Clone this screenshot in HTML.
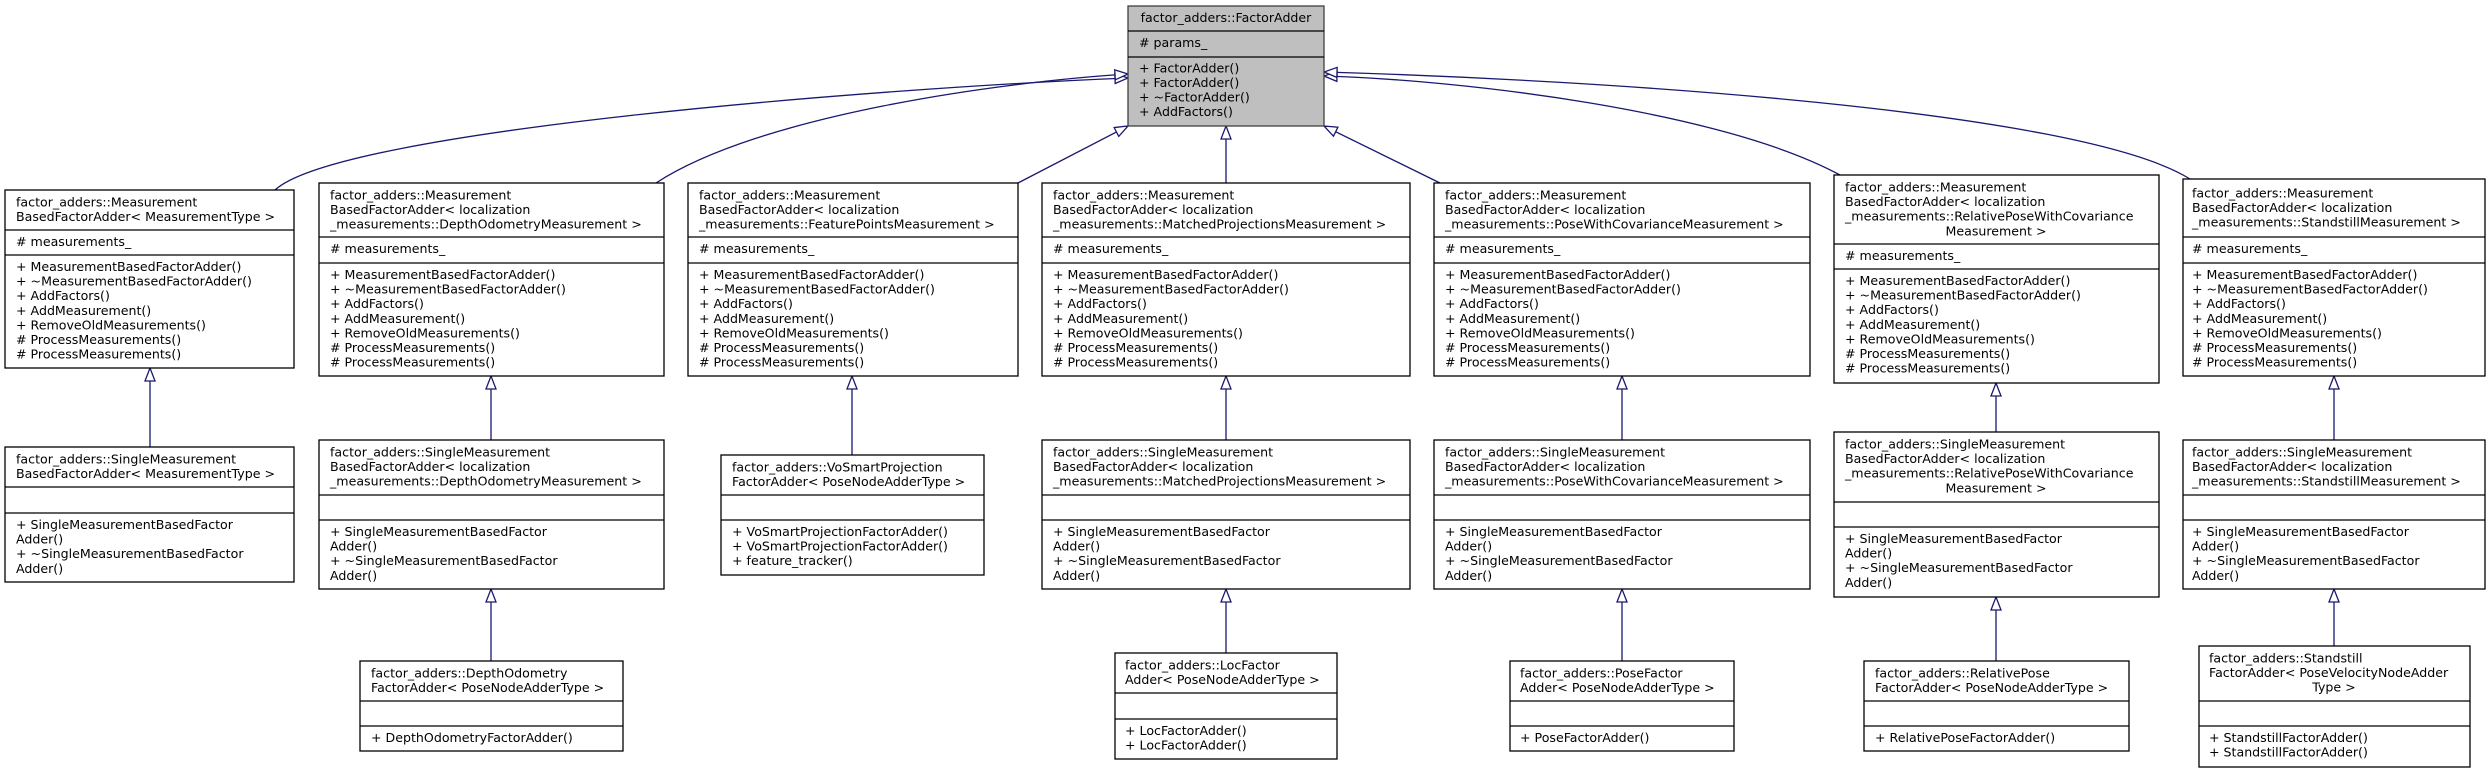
<!DOCTYPE html>
<html><head><meta charset="utf-8"><style>
html,body{margin:0;padding:0;background:#fff;}
svg{display:block}
text{font-family:"DejaVu Sans","Liberation Sans",sans-serif;font-size:12.6px;fill:#000;}
.b{fill:#fff;stroke:#000;stroke-width:1.3}
.g{fill:#bfbfbf;stroke:#404040;stroke-width:1.3}
.s{stroke:#000;stroke-width:1.3}
.e{fill:none;stroke:#191970;stroke-width:1.3}
.c{text-anchor:middle}
</style></head><body>
<svg width="2487" height="772" viewBox="0 0 2487 772" xmlns="http://www.w3.org/2000/svg">
<defs>
<marker id="a" markerUnits="userSpaceOnUse" markerWidth="16" markerHeight="14" refX="14" refY="6" orient="auto">
<path d="M1,1 L14,6 L1,11 Z" fill="#fff" stroke="#191970" stroke-width="1.3"/>
</marker>
</defs>

<!-- edges -->
<path class="e" marker-end="url(#a)" d="M275,190 C340,130 880,88 1128,78"/>
<path class="e" marker-end="url(#a)" d="M656,183 C760,115 1000,82 1128,74"/>
<path class="e" marker-end="url(#a)" d="M1018,183 L1128,126"/>
<path class="e" marker-end="url(#a)" d="M1226,183 L1226,126"/>
<path class="e" marker-end="url(#a)" d="M1440,183 L1324,126"/>
<path class="e" marker-end="url(#a)" d="M1840,175 C1720,110 1460,80 1324,76"/>
<path class="e" marker-end="url(#a)" d="M2190,179 C2080,110 1600,80 1324,72"/>
<path class="e" marker-end="url(#a)" d="M150,447 L150,368"/>
<path class="e" marker-end="url(#a)" d="M491,440 L491,376"/>
<path class="e" marker-end="url(#a)" d="M852,455 L852,376"/>
<path class="e" marker-end="url(#a)" d="M1226,440 L1226,376"/>
<path class="e" marker-end="url(#a)" d="M1622,440 L1622,376"/>
<path class="e" marker-end="url(#a)" d="M1996,432 L1996,383"/>
<path class="e" marker-end="url(#a)" d="M2334,440 L2334,376"/>
<path class="e" marker-end="url(#a)" d="M491,661 L491,589"/>
<path class="e" marker-end="url(#a)" d="M1226,653 L1226,589"/>
<path class="e" marker-end="url(#a)" d="M1622,661 L1622,589"/>
<path class="e" marker-end="url(#a)" d="M1996,661 L1996,597"/>
<path class="e" marker-end="url(#a)" d="M2334,646 L2334,589"/>

<!-- top box -->
<g transform="translate(1128,6)">
<rect class="g" x="0" y="0" width="196" height="120"/>
<line class="s" x1="0" y1="25" x2="196" y2="25"/><line class="s" x1="0" y1="51" x2="196" y2="51"/>
<text class="c" x="98" y="16">factor_adders::FactorAdder</text>
<text x="11" y="41"># params_</text>
<text x="11" y="66.5">+ FactorAdder()</text>
<text x="11" y="81">+ FactorAdder()</text>
<text x="11" y="95.5">+ ~FactorAdder()</text>
<text x="11" y="110">+ AddFactors()</text>
</g>

<!-- B1 -->
<g transform="translate(5,190)">
<rect class="b" width="289" height="178"/>
<line class="s" x1="0" y1="40" x2="289" y2="40"/><line class="s" x1="0" y1="65" x2="289" y2="65"/>
<text x="11" y="16.5">factor_adders::Measurement</text>
<text x="11" y="31">BasedFactorAdder&lt; MeasurementType &gt;</text>
<text x="11" y="56"># measurements_</text>
<text x="11" y="81">+ MeasurementBasedFactorAdder()</text>
<text x="11" y="95.6">+ ~MeasurementBasedFactorAdder()</text>
<text x="11" y="110.2">+ AddFactors()</text>
<text x="11" y="124.8">+ AddMeasurement()</text>
<text x="11" y="139.4">+ RemoveOldMeasurements()</text>
<text x="11" y="154"># ProcessMeasurements()</text>
<text x="11" y="168.6"># ProcessMeasurements()</text>
</g>

<!-- B2 -->
<g transform="translate(319,183)">
<rect class="b" width="345" height="193"/>
<line class="s" x1="0" y1="54" x2="345" y2="54"/><line class="s" x1="0" y1="80" x2="345" y2="80"/>
<text x="11" y="16.5">factor_adders::Measurement</text>
<text x="11" y="31">BasedFactorAdder&lt; localization</text>
<text x="11" y="45.7">_measurements::DepthOdometryMeasurement &gt;</text>
<text x="11" y="70"># measurements_</text>
<text x="11" y="96">+ MeasurementBasedFactorAdder()</text>
<text x="11" y="110.6">+ ~MeasurementBasedFactorAdder()</text>
<text x="11" y="125.2">+ AddFactors()</text>
<text x="11" y="139.8">+ AddMeasurement()</text>
<text x="11" y="154.4">+ RemoveOldMeasurements()</text>
<text x="11" y="169"># ProcessMeasurements()</text>
<text x="11" y="183.6"># ProcessMeasurements()</text>
</g>

<!-- B3 -->
<g transform="translate(688,183)">
<rect class="b" width="330" height="193"/>
<line class="s" x1="0" y1="54" x2="330" y2="54"/><line class="s" x1="0" y1="80" x2="330" y2="80"/>
<text x="11" y="16.5">factor_adders::Measurement</text>
<text x="11" y="31">BasedFactorAdder&lt; localization</text>
<text x="11" y="45.7">_measurements::FeaturePointsMeasurement &gt;</text>
<text x="11" y="70"># measurements_</text>
<text x="11" y="96">+ MeasurementBasedFactorAdder()</text>
<text x="11" y="110.6">+ ~MeasurementBasedFactorAdder()</text>
<text x="11" y="125.2">+ AddFactors()</text>
<text x="11" y="139.8">+ AddMeasurement()</text>
<text x="11" y="154.4">+ RemoveOldMeasurements()</text>
<text x="11" y="169"># ProcessMeasurements()</text>
<text x="11" y="183.6"># ProcessMeasurements()</text>
</g>

<!-- B4 -->
<g transform="translate(1042,183)">
<rect class="b" width="368" height="193"/>
<line class="s" x1="0" y1="54" x2="368" y2="54"/><line class="s" x1="0" y1="80" x2="368" y2="80"/>
<text x="11" y="16.5">factor_adders::Measurement</text>
<text x="11" y="31">BasedFactorAdder&lt; localization</text>
<text x="11" y="45.7">_measurements::MatchedProjectionsMeasurement &gt;</text>
<text x="11" y="70"># measurements_</text>
<text x="11" y="96">+ MeasurementBasedFactorAdder()</text>
<text x="11" y="110.6">+ ~MeasurementBasedFactorAdder()</text>
<text x="11" y="125.2">+ AddFactors()</text>
<text x="11" y="139.8">+ AddMeasurement()</text>
<text x="11" y="154.4">+ RemoveOldMeasurements()</text>
<text x="11" y="169"># ProcessMeasurements()</text>
<text x="11" y="183.6"># ProcessMeasurements()</text>
</g>

<!-- B5 -->
<g transform="translate(1434,183)">
<rect class="b" width="376" height="193"/>
<line class="s" x1="0" y1="54" x2="376" y2="54"/><line class="s" x1="0" y1="80" x2="376" y2="80"/>
<text x="11" y="16.5">factor_adders::Measurement</text>
<text x="11" y="31">BasedFactorAdder&lt; localization</text>
<text x="11" y="45.7">_measurements::PoseWithCovarianceMeasurement &gt;</text>
<text x="11" y="70"># measurements_</text>
<text x="11" y="96">+ MeasurementBasedFactorAdder()</text>
<text x="11" y="110.6">+ ~MeasurementBasedFactorAdder()</text>
<text x="11" y="125.2">+ AddFactors()</text>
<text x="11" y="139.8">+ AddMeasurement()</text>
<text x="11" y="154.4">+ RemoveOldMeasurements()</text>
<text x="11" y="169"># ProcessMeasurements()</text>
<text x="11" y="183.6"># ProcessMeasurements()</text>
</g>

<!-- B6 -->
<g transform="translate(1834,175)">
<rect class="b" width="325" height="208"/>
<line class="s" x1="0" y1="69" x2="325" y2="69"/><line class="s" x1="0" y1="94" x2="325" y2="94"/>
<text x="11" y="16.5">factor_adders::Measurement</text>
<text x="11" y="31">BasedFactorAdder&lt; localization</text>
<text x="11" y="45.7">_measurements::RelativePoseWithCovariance</text>
<text class="c" x="162" y="60.3">Measurement &gt;</text>
<text x="11" y="85"># measurements_</text>
<text x="11" y="110">+ MeasurementBasedFactorAdder()</text>
<text x="11" y="124.6">+ ~MeasurementBasedFactorAdder()</text>
<text x="11" y="139.2">+ AddFactors()</text>
<text x="11" y="153.8">+ AddMeasurement()</text>
<text x="11" y="168.4">+ RemoveOldMeasurements()</text>
<text x="11" y="183"># ProcessMeasurements()</text>
<text x="11" y="197.6"># ProcessMeasurements()</text>
</g>

<!-- B7 -->
<g transform="translate(2183,179)">
<rect class="b" width="302" height="197"/>
<line class="s" x1="0" y1="58" x2="302" y2="58"/><line class="s" x1="0" y1="84" x2="302" y2="84"/>
<text x="9" y="18.5">factor_adders::Measurement</text>
<text x="9" y="33">BasedFactorAdder&lt; localization</text>
<text x="9" y="47.7">_measurements::StandstillMeasurement &gt;</text>
<text x="9" y="74"># measurements_</text>
<text x="9" y="100">+ MeasurementBasedFactorAdder()</text>
<text x="9" y="114.6">+ ~MeasurementBasedFactorAdder()</text>
<text x="9" y="129.2">+ AddFactors()</text>
<text x="9" y="143.8">+ AddMeasurement()</text>
<text x="9" y="158.4">+ RemoveOldMeasurements()</text>
<text x="9" y="173"># ProcessMeasurements()</text>
<text x="9" y="187.6"># ProcessMeasurements()</text>
</g>

<!-- C1 -->
<g transform="translate(5,447)">
<rect class="b" width="289" height="135"/>
<line class="s" x1="0" y1="40" x2="289" y2="40"/><line class="s" x1="0" y1="66" x2="289" y2="66"/>
<text x="11" y="16.5">factor_adders::SingleMeasurement</text>
<text x="11" y="31">BasedFactorAdder&lt; MeasurementType &gt;</text>
<text x="11" y="82">+ SingleMeasurementBasedFactor</text>
<text x="11" y="96.6">Adder()</text>
<text x="11" y="111.2">+ ~SingleMeasurementBasedFactor</text>
<text x="11" y="125.8">Adder()</text>
</g>

<!-- C2 -->
<g transform="translate(319,440)">
<rect class="b" width="345" height="149"/>
<line class="s" x1="0" y1="55" x2="345" y2="55"/><line class="s" x1="0" y1="80" x2="345" y2="80"/>
<text x="11" y="16.5">factor_adders::SingleMeasurement</text>
<text x="11" y="31">BasedFactorAdder&lt; localization</text>
<text x="11" y="45.7">_measurements::DepthOdometryMeasurement &gt;</text>
<text x="11" y="96">+ SingleMeasurementBasedFactor</text>
<text x="11" y="110.6">Adder()</text>
<text x="11" y="125.2">+ ~SingleMeasurementBasedFactor</text>
<text x="11" y="139.8">Adder()</text>
</g>

<!-- C3 -->
<g transform="translate(721,455)">
<rect class="b" width="263" height="120"/>
<line class="s" x1="0" y1="40" x2="263" y2="40"/><line class="s" x1="0" y1="65" x2="263" y2="65"/>
<text x="11" y="16.5">factor_adders::VoSmartProjection</text>
<text x="11" y="31">FactorAdder&lt; PoseNodeAdderType &gt;</text>
<text x="11" y="81">+ VoSmartProjectionFactorAdder()</text>
<text x="11" y="95.6">+ VoSmartProjectionFactorAdder()</text>
<text x="11" y="110.2">+ feature_tracker()</text>
</g>

<!-- C4 -->
<g transform="translate(1042,440)">
<rect class="b" width="368" height="149"/>
<line class="s" x1="0" y1="55" x2="368" y2="55"/><line class="s" x1="0" y1="80" x2="368" y2="80"/>
<text x="11" y="16.5">factor_adders::SingleMeasurement</text>
<text x="11" y="31">BasedFactorAdder&lt; localization</text>
<text x="11" y="45.7">_measurements::MatchedProjectionsMeasurement &gt;</text>
<text x="11" y="96">+ SingleMeasurementBasedFactor</text>
<text x="11" y="110.6">Adder()</text>
<text x="11" y="125.2">+ ~SingleMeasurementBasedFactor</text>
<text x="11" y="139.8">Adder()</text>
</g>

<!-- C5 -->
<g transform="translate(1434,440)">
<rect class="b" width="376" height="149"/>
<line class="s" x1="0" y1="55" x2="376" y2="55"/><line class="s" x1="0" y1="80" x2="376" y2="80"/>
<text x="11" y="16.5">factor_adders::SingleMeasurement</text>
<text x="11" y="31">BasedFactorAdder&lt; localization</text>
<text x="11" y="45.7">_measurements::PoseWithCovarianceMeasurement &gt;</text>
<text x="11" y="96">+ SingleMeasurementBasedFactor</text>
<text x="11" y="110.6">Adder()</text>
<text x="11" y="125.2">+ ~SingleMeasurementBasedFactor</text>
<text x="11" y="139.8">Adder()</text>
</g>

<!-- C6 -->
<g transform="translate(1834,432)">
<rect class="b" width="325" height="165"/>
<line class="s" x1="0" y1="70" x2="325" y2="70"/><line class="s" x1="0" y1="95" x2="325" y2="95"/>
<text x="11" y="16.5">factor_adders::SingleMeasurement</text>
<text x="11" y="31">BasedFactorAdder&lt; localization</text>
<text x="11" y="45.7">_measurements::RelativePoseWithCovariance</text>
<text class="c" x="162" y="60.3">Measurement &gt;</text>
<text x="11" y="111">+ SingleMeasurementBasedFactor</text>
<text x="11" y="125.6">Adder()</text>
<text x="11" y="140.2">+ ~SingleMeasurementBasedFactor</text>
<text x="11" y="154.8">Adder()</text>
</g>

<!-- C7 -->
<g transform="translate(2183,440)">
<rect class="b" width="302" height="149"/>
<line class="s" x1="0" y1="55" x2="302" y2="55"/><line class="s" x1="0" y1="80" x2="302" y2="80"/>
<text x="9" y="16.5">factor_adders::SingleMeasurement</text>
<text x="9" y="31">BasedFactorAdder&lt; localization</text>
<text x="9" y="45.7">_measurements::StandstillMeasurement &gt;</text>
<text x="9" y="96">+ SingleMeasurementBasedFactor</text>
<text x="9" y="110.6">Adder()</text>
<text x="9" y="125.2">+ ~SingleMeasurementBasedFactor</text>
<text x="9" y="139.8">Adder()</text>
</g>

<!-- D2 -->
<g transform="translate(360,661)">
<rect class="b" width="263" height="90"/>
<line class="s" x1="0" y1="40" x2="263" y2="40"/><line class="s" x1="0" y1="65" x2="263" y2="65"/>
<text x="11" y="16.5">factor_adders::DepthOdometry</text>
<text x="11" y="31">FactorAdder&lt; PoseNodeAdderType &gt;</text>
<text x="11" y="81">+ DepthOdometryFactorAdder()</text>
</g>

<!-- D4 -->
<g transform="translate(1115,653)">
<rect class="b" width="222" height="106"/>
<line class="s" x1="0" y1="40" x2="222" y2="40"/><line class="s" x1="0" y1="66" x2="222" y2="66"/>
<text x="10" y="16.5">factor_adders::LocFactor</text>
<text x="10" y="31">Adder&lt; PoseNodeAdderType &gt;</text>
<text x="10" y="82">+ LocFactorAdder()</text>
<text x="10" y="96.6">+ LocFactorAdder()</text>
</g>

<!-- D5 -->
<g transform="translate(1510,661)">
<rect class="b" width="224" height="90"/>
<line class="s" x1="0" y1="40" x2="224" y2="40"/><line class="s" x1="0" y1="65" x2="224" y2="65"/>
<text x="10" y="16.5">factor_adders::PoseFactor</text>
<text x="10" y="31">Adder&lt; PoseNodeAdderType &gt;</text>
<text x="10" y="81">+ PoseFactorAdder()</text>
</g>

<!-- D6 -->
<g transform="translate(1864,661)">
<rect class="b" width="265" height="90"/>
<line class="s" x1="0" y1="40" x2="265" y2="40"/><line class="s" x1="0" y1="65" x2="265" y2="65"/>
<text x="11" y="16.5">factor_adders::RelativePose</text>
<text x="11" y="31">FactorAdder&lt; PoseNodeAdderType &gt;</text>
<text x="11" y="81">+ RelativePoseFactorAdder()</text>
</g>

<!-- D7 -->
<g transform="translate(2199,646)">
<rect class="b" width="271" height="121"/>
<line class="s" x1="0" y1="55" x2="271" y2="55"/><line class="s" x1="0" y1="80" x2="271" y2="80"/>
<text x="10" y="16.5">factor_adders::Standstill</text>
<text x="10" y="31">FactorAdder&lt; PoseVelocityNodeAdder</text>
<text class="c" x="135" y="45.7">Type &gt;</text>
<text x="10" y="96">+ StandstillFactorAdder()</text>
<text x="10" y="110.6">+ StandstillFactorAdder()</text>
</g>
</svg>
</body></html>
